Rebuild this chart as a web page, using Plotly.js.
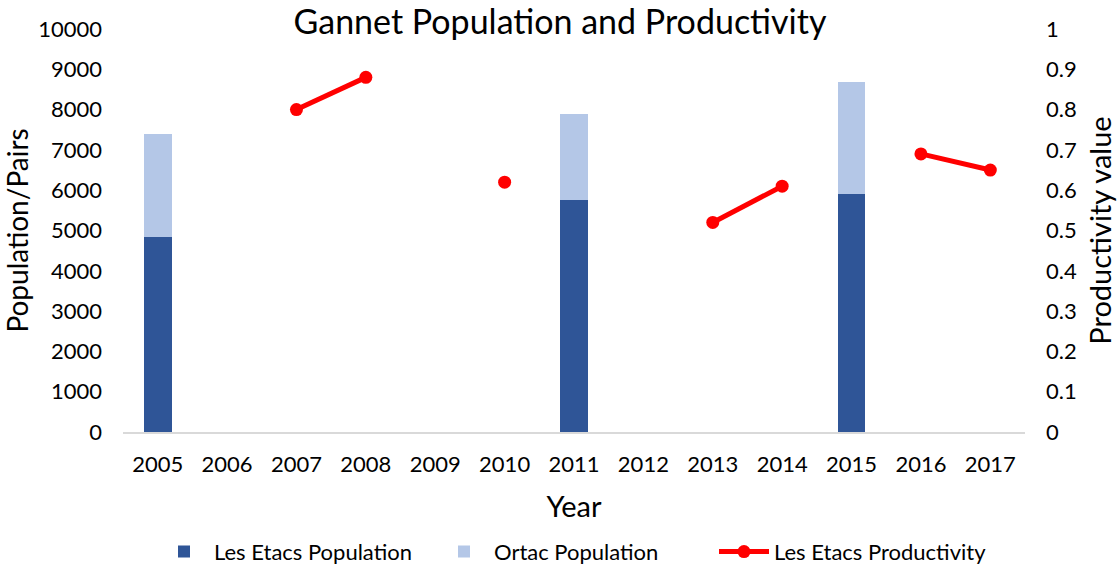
<!DOCTYPE html>
<html>
<head>
<meta charset="utf-8">
<script src="https://cdn.plot.ly/plotly-3.0.1.min.js"></script>
<style>html,body{margin:0;padding:0;background:#fff;}#chart{width:1120px;height:566px;}</style>
</head>
<body>
<div id="chart"></div>
<script>
const years = ['2005','2006','2007','2008','2009','2010','2011','2012','2013','2014','2015','2016','2017'];
const lesEtacsPopulation = [4850, null, null, null, null, null, 5760, null, null, null, 5900, null, null];
const ortacPopulation = [2550, null, null, null, null, null, 2120, null, null, null, 2780, null, null];
const lesEtacsProductivity = [null, null, 0.80, 0.88, null, 0.62, null, null, 0.52, 0.61, null, 0.69, 0.65];

const FONT = 'Lato, Calibri, "Open Sans", sans-serif';

const traces = [
  {type:'bar', name:'Les Etacs Population', x:years, y:lesEtacsPopulation,
   marker:{color:'#2F5597'}, width:0.4, hoverinfo:'y'},
  {type:'bar', name:'Ortac Population', x:years, y:ortacPopulation,
   marker:{color:'#B4C7E7'}, width:0.4, hoverinfo:'y'},
  {type:'scatter', mode:'lines+markers', name:'Les Etacs Productivity', x:years, y:lesEtacsProductivity,
   yaxis:'y2', line:{color:'#FF0000', width:5}, marker:{color:'#FF0000', size:13},
   connectgaps:false}
];

const layout = {
  width:1120, height:566,
  margin:{l:123, r:95, t:29, b:134, autoexpand:false},
  paper_bgcolor:'#fff', plot_bgcolor:'#fff',
  barmode:'stack',
  font:{family:FONT, color:'#000', size:22},
  title:{text:'Gannet Population and Productivity', x:0.5, xanchor:'center',
         yref:'container', y:0.961, yanchor:'middle',
         font:{family:FONT, size:34, color:'#000'}},
  xaxis:{type:'category', range:[-0.5, years.length - 0.5], automargin:false, showline:true,
         linecolor:'#D9D9D9', linewidth:2, ticks:'',
         tickfont:{size:22}, showgrid:false, zeroline:false, ticklabelstandoff:12,
         title:{text:'Year', font:{size:29}, standoff:20}},
  yaxis:{range:[0,10000], dtick:1000, tickformat:'d', automargin:false, showgrid:false, zeroline:false,
         showline:false, ticks:'', tickfont:{size:22}, ticklabelstandoff:20,
         title:{text:'Population/Pairs', font:{size:28}, standoff:14}},
  yaxis2:{range:[0,1], dtick:0.1, automargin:false, overlaying:'y', side:'right', showgrid:false, zeroline:false,
          showline:false, ticks:'', tickfont:{size:22}, ticklabelstandoff:20,
          title:{text:'Productivity value', font:{size:29}, standoff:14}},
  legend:{orientation:'h', x:0.5, xanchor:'center', y:-0.245, yanchor:'top',
          font:{size:22}, traceorder:'normal', itemwidth:50, entrywidth:215},
  showlegend:true
};

Plotly.newPlot('chart', traces, layout, {staticPlot:true});
</script>
</body>
</html>
